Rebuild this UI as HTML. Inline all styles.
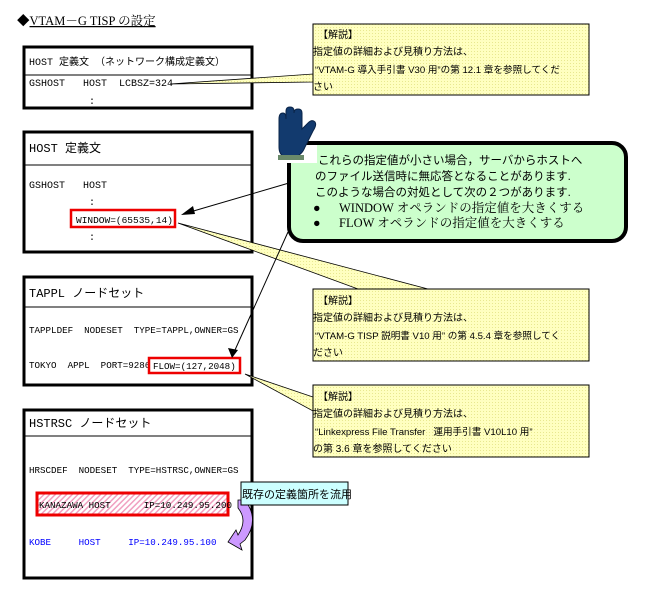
<!DOCTYPE html>
<html><head><meta charset="utf-8"><style>
body{margin:0;background:#fff;width:649px;height:601px;overflow:hidden}
svg{display:block}
text{font-family:"Liberation Sans","Noto Sans CJK JP",sans-serif;font-size:10px;fill:#000;white-space:pre}
.m{font-family:"Liberation Mono","Noto Sans CJK JP",monospace;font-size:10px}
.s{font-family:"Liberation Serif","Noto Serif CJK SC",serif;font-size:12.5px}
</style></head><body>
<svg width="649" height="601" viewBox="0 0 649 601" xml:space="preserve">
<defs>
<pattern id="y" width="3" height="3" patternUnits="userSpaceOnUse"><rect width="3" height="3" fill="#ffffc0"/><rect width="1" height="1" fill="#e8e890"/></pattern>
<pattern id="p" width="4" height="4" patternUnits="userSpaceOnUse" patternTransform="rotate(-45)"><rect width="4" height="4" fill="#fff"/><rect width="4" height="1.5" fill="#f0a0c0"/></pattern>
</defs>
<text x="17" y="25" class="s">◆<tspan text-decoration="underline">VTAM－G TISP の設定</tspan></text>

<!-- Box1 -->
<rect x="24" y="47" width="228" height="61" fill="#fff" stroke="#000" stroke-width="3"/>
<line x1="24" y1="75" x2="252" y2="75" stroke="#000"/>
<text x="29" y="65" class="m">HOST 定義文 （ネットワーク構成定義文）</text>
<text x="29" y="86" class="m">GSHOST   HOST  LCBSZ=324</text>
<text x="89" y="104" class="m">:</text>

<!-- Box2 -->
<rect x="24" y="132" width="228" height="120" fill="#fff" stroke="#000" stroke-width="3"/>
<line x1="24" y1="165" x2="252" y2="165" stroke="#000"/>
<text x="29" y="152" class="m" style="font-size:12px">HOST 定義文</text>
<text x="29" y="188" class="m">GSHOST   HOST</text>
<text x="89" y="205" class="m">:</text>
<rect x="71" y="210" width="104" height="17" fill="#fff" stroke="#e00" stroke-width="2.5"/>
<text x="76" y="223" class="m" style="font-size:9.5px">WINDOW=(65535,14)</text>
<text x="89" y="240" class="m">:</text>

<!-- Box3 -->
<rect x="24" y="277" width="228" height="108" fill="#fff" stroke="#000" stroke-width="3"/>
<line x1="24" y1="307" x2="252" y2="307" stroke="#000"/>
<text x="29" y="297" class="m" style="font-size:12px">TAPPL ノードセット</text>
<text x="29" y="333" class="m" style="font-size:9.2px">TAPPLDEF  NODESET  TYPE=TAPPL,OWNER=GS</text>
<text x="29" y="368" class="m" style="font-size:9.2px">TOKYO  APPL  PORT=9286</text>
<rect x="149" y="358" width="91" height="15" fill="#fff" stroke="#e00" stroke-width="2.5"/>
<text x="153" y="369" class="m" style="font-size:9.2px">FLOW=(127,2048)</text>

<!-- Box4 -->
<rect x="24" y="410" width="228" height="168" fill="#fff" stroke="#000" stroke-width="3"/>
<line x1="24" y1="436" x2="252" y2="436" stroke="#000"/>
<text x="29" y="427" class="m" style="font-size:12px">HSTRSC ノードセット</text>
<text x="29" y="473" class="m" style="font-size:9.2px">HRSCDEF  NODESET  TYPE=HSTRSC,OWNER=GS</text>
<rect x="37" y="493" width="191" height="22" fill="url(#p)" stroke="#e00" stroke-width="3"/>
<text x="39" y="508" class="m" style="font-size:9.2px">KANAZAWA HOST      IP=10.249.95.200</text>
<text x="29" y="545" class="m" style="fill:#00f;font-size:9.2px">KOBE     HOST     IP=10.249.95.100</text>

<!-- wedges -->
<polygon points="170,84 313,74 313,82" fill="url(#y)" stroke="#000" stroke-width="0.8"/>
<polygon points="178,223 358,289 428,289" fill="url(#y)" stroke="#000" stroke-width="0.8"/>
<polygon points="245,374 313,397 313,411" fill="url(#y)" stroke="#000" stroke-width="0.8"/>

<!-- callouts -->
<rect x="313" y="24" width="276" height="71" fill="url(#y)" stroke="#000"/>
<text x="318" y="38">【解説】</text>
<text x="313" y="55">指定値の詳細および見積り方法は、</text>
<text x="315" y="73" style="font-size:9.6px">“VTAM-G 導入手引書 V30 用”の第 12.1 章を参照してくだ</text>
<text x="313" y="90">さい</text>

<rect x="313" y="289" width="276" height="72" fill="url(#y)" stroke="#000"/>
<text x="318" y="304">【解説】</text>
<text x="313" y="321">指定値の詳細および見積り方法は、</text>
<text x="315" y="339" style="font-size:9.6px">“VTAM-G TISP 説明書 V10 用” の第 4.5.4 章を参照してく</text>
<text x="313" y="356">ださい</text>

<rect x="313" y="385" width="276" height="72" fill="url(#y)" stroke="#000"/>
<text x="318" y="400">【解説】</text>
<text x="313" y="417">指定値の詳細および見積り方法は、</text>
<text x="315" y="435" style="font-size:9.6px">“Linkexpress File Transfer   運用手引書 V10L10 用”</text>
<text x="313" y="452">の第 3.6 章を参照してください</text>

<!-- green box -->
<rect x="289" y="143" width="337" height="98" rx="14" fill="#ccffcc" stroke="#000" stroke-width="4"/>
<text x="318" y="164" style="font-size:11.5px">これらの指定値が小さい場合，サーバからホストへ</text>
<text x="315" y="180" style="font-size:11.5px">のファイル送信時に無応答となることがあります.</text>
<text x="315" y="196" style="font-size:11.5px">このような場合の対処として次の２つがあります.</text>
<text x="313" y="212" class="s">●</text><text x="339" y="212" class="s">WINDOW オペランドの指定値を大きくする</text>
<text x="313" y="227" class="s">●</text><text x="339" y="227" class="s">FLOW オペランドの指定値を大きくする</text>

<!-- hand -->
<g transform="translate(275,107)">
<rect x="0" y="38" width="42" height="18" fill="#fff"/>
<path d="M4 12 Q4 6 8 6 Q11 6 11 12 L11 4 Q11 0 15 0 Q19 0 19 4 L19 6 Q19 2 23 2 Q27 2 27 6 L27 22 L33 16 Q37 12 40 15 Q42 18 38 24 L30 40 Q27 48 20 50 L10 50 Q4 48 4 40 Z" fill="#123a6e" stroke="#0a2448"/>
<rect x="3" y="48" width="26" height="5" fill="#6a8a6a"/>
</g>

<!-- arrows -->
<line x1="289" y1="183" x2="190" y2="212" stroke="#000"/>
<polygon points="181,215 193,206 195,214" fill="#000"/>
<line x1="288" y1="232" x2="235" y2="350" stroke="#000"/>
<polygon points="232,358 228,348 238,350" fill="#000"/>

<!-- curved purple arrow -->
<path d="M238 500 L245 500 Q260 520 245 540 L240 544 L242 550 L228 542 L236 530 L238 535 Q248 520 238 508 Z" fill="#cc99ff" stroke="#000" stroke-width="0.8"/>
<rect x="241" y="482" width="107" height="23" fill="#ccffff" stroke="#000"/>
<text x="242" y="498" style="font-size:11px">既存の定義箇所を流用</text>
</svg>
</body></html>
